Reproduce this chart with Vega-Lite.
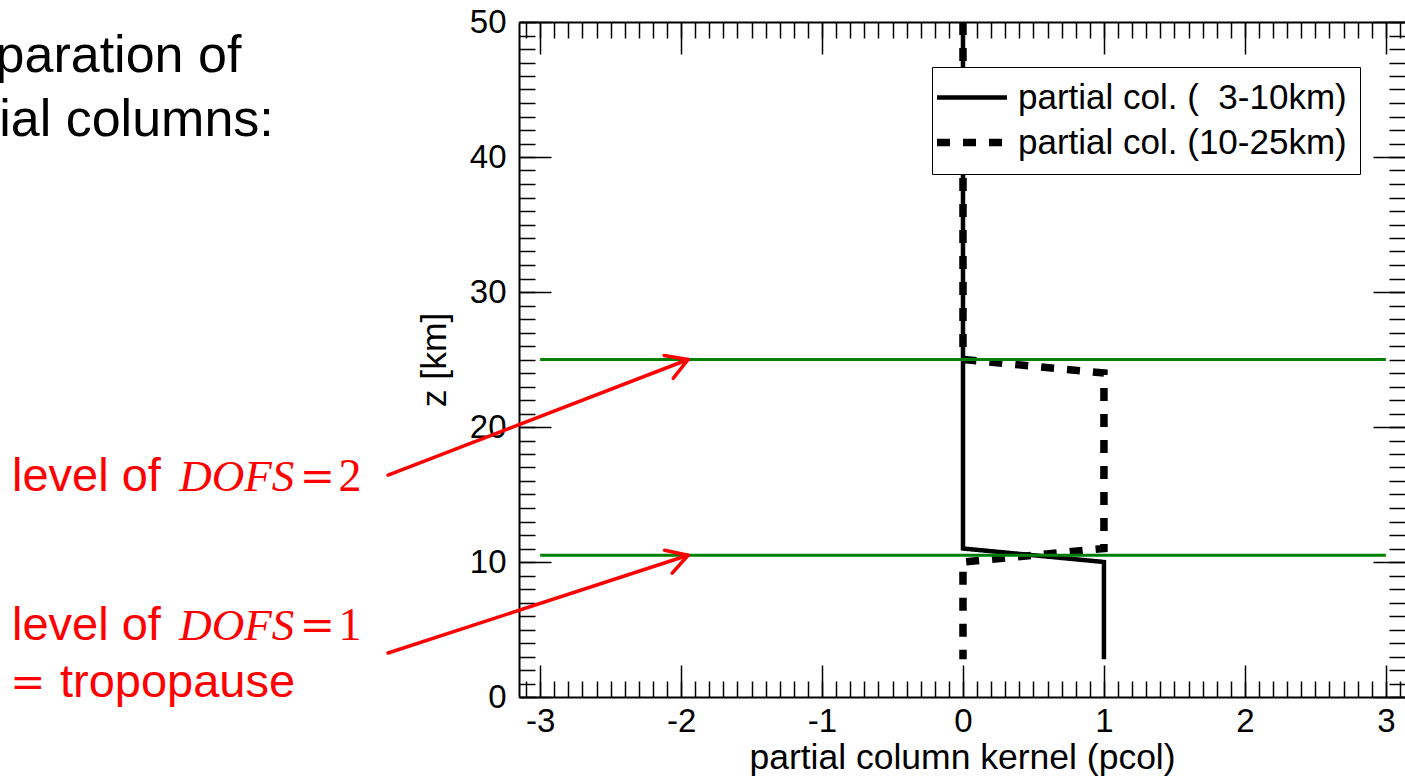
{
  "$schema": "https://vega.github.io/schema/vega-lite/v6.json",
  "width": 886,
  "height": 675,
  "autosize": "none",
  "padding": {"left": 519, "top": 22, "right": 0, "bottom": 79},
  "background": "white",
  "config": {
    "view": {"stroke": null},
    "axis": {
      "labelFont": "Liberation Sans", "titleFont": "Liberation Sans",
      "labelFontSize": 33, "titleFontSize": 35.5, "titleFontWeight": "normal",
      "labelColor": "black", "titleColor": "black",
      "domainColor": "black", "domainWidth": 2,
      "tickColor": "black", "tickWidth": 1.5,
      "grid": false, "labelFlush": false, "labelOverlap": false, "labelBound": false
    }
  },
  "datasets": {
    "kernel": [
      {"series": "partial col. (\u00a0\u00a03-10km)", "o": 1, "pcol": 0, "z": 50},
      {"series": "partial col. (\u00a0\u00a03-10km)", "o": 2, "pcol": 0, "z": 11},
      {"series": "partial col. (\u00a0\u00a03-10km)", "o": 3, "pcol": 1, "z": 10},
      {"series": "partial col. (\u00a0\u00a03-10km)", "o": 4, "pcol": 1, "z": 2.8},
      {"series": "partial col. (10-25km)", "o": 1, "pcol": 0, "z": 50},
      {"series": "partial col. (10-25km)", "o": 2, "pcol": 0, "z": 25},
      {"series": "partial col. (10-25km)", "o": 3, "pcol": 1, "z": 24},
      {"series": "partial col. (10-25km)", "o": 4, "pcol": 1, "z": 11},
      {"series": "partial col. (10-25km)", "o": 5, "pcol": 0, "z": 10},
      {"series": "partial col. (10-25km)", "o": 6, "pcol": 0, "z": 2.8}
    ],
    "levels": [{"z": 25}, {"z": 10.5}],
    "arrows": [
      {"seg": "a1s", "o": 1, "x": -4.079, "z": 16.44},
      {"seg": "a1s", "o": 2, "x": -1.95, "z": 25},
      {"seg": "a1h", "o": 1, "x": -2.12, "z": 25.3},
      {"seg": "a1h", "o": 2, "x": -1.95, "z": 25},
      {"seg": "a1h", "o": 3, "x": -2.056, "z": 23.6},
      {"seg": "a2s", "o": 1, "x": -4.079, "z": 3.26},
      {"seg": "a2s", "o": 2, "x": -1.95, "z": 10.5},
      {"seg": "a2h", "o": 1, "x": -2.117, "z": 10.87},
      {"seg": "a2h", "o": 2, "x": -1.95, "z": 10.5},
      {"seg": "a2h", "o": 3, "x": -2.063, "z": 9.17}
    ],
    "redSans": [
      {"t": "level of", "x": -6.747, "z": 15.26},
      {"t": "level of", "x": -6.747, "z": 4.22},
      {"t": "tropopause", "x": -6.407, "z": 0.0}
    ],
    "redItalic": [
      {"t": "DOFS", "x": -5.56, "z": 15.26},
      {"t": "DOFS", "x": -5.56, "z": 4.22}
    ],
    "redDigits": [
      {"t": "2", "x": -4.43, "z": 15.26},
      {"t": "1", "x": -4.43, "z": 4.22}
    ],
    "redEquals": [
      {"t": "=", "x": -4.705, "z": 15.26},
      {"t": "=", "x": -4.705, "z": 4.22},
      {"t": "=", "x": -6.76, "z": 0.0}
    ],
    "blackText": [
      {"t": "Separation of", "x": -5.12, "z": 46.3},
      {"t": "partial columns:", "x": -4.89, "z": 41.56}
    ]
  },
  "resolve": {"axis": {"x": "independent", "y": "independent"}},
  "layer": [
    {
      "data": {"name": "kernel"},
      "mark": {"type": "line", "color": "black", "strokeCap": "butt", "strokeJoin": "miter"},
      "encoding": {
        "x": {"field": "pcol", "type": "quantitative",
              "scale": {"domain": [-3.15, 3.136], "nice": false, "zero": false},
              "axis": {"orient": "bottom", "values": [-3, -2, -1, 0, 1, 2, 3], "ticks": false, "labelPadding": 8,
                       "labelExpr": "'' + datum.value", "title": "partial column kernel (pcol)", "titlePadding": 2, "domain": true}},
        "y": {"field": "z", "type": "quantitative",
              "scale": {"domain": [0, 50], "nice": false, "zero": false},
              "axis": {"orient": "left", "values": [0, 10, 20, 30, 40, 50], "ticks": false, "labelPadding": 13,
                       "title": "z [km]", "titlePadding": 17, "domain": true}},
        "order": {"field": "o", "type": "quantitative"},
        "strokeDash": {"field": "series", "type": "nominal",
                       "scale": {"domain": ["partial col. (\u00a0\u00a03-10km)", "partial col. (10-25km)"], "range": [[1, 0], [13, 13]]},
                       "legend": {"orient": "none", "legendX": 413, "legendY": 45, "title": null,
                                  "symbolType": "M-3,0H3", "symbolSize": 544, "symbolOffset": 9.5, "labelOffset": 28.5,
                                  "labelFont": "Liberation Sans", "labelFontSize": 35, "labelColor": "black", "labelLimit": 0,
                                  "padding": 13, "rowPadding": 9, "strokeColor": "black", "fillColor": "white",
                                  "symbolStrokeColor": "black", "symbolFillColor": "transparent"}},
        "strokeWidth": {"field": "series", "type": "ordinal",
                        "scale": {"domain": ["partial col. (\u00a0\u00a03-10km)", "partial col. (10-25km)"], "range": [4.5, 7.5]},
                        "legend": {"orient": "none", "legendX": 413, "legendY": 45, "title": null,
                                  "symbolType": "M-3,0H3", "symbolSize": 544, "symbolOffset": 9.5, "labelOffset": 28.5,
                                  "labelFont": "Liberation Sans", "labelFontSize": 35, "labelColor": "black", "labelLimit": 0,
                                  "padding": 13, "rowPadding": 9, "strokeColor": "black", "fillColor": "white",
                                  "symbolStrokeColor": "black", "symbolFillColor": "transparent"}}
      }
    },
    {
      "data": {"name": "levels"},
      "mark": {"type": "rule", "color": "#008000", "strokeWidth": 3},
      "encoding": {
        "x": {"datum": -3, "type": "quantitative",
              "scale": {"domain": [-3.15, 3.136], "nice": false, "zero": false},
              "axis": {"orient": "bottom", "values": [-3, -2, -1, 0, 1, 2, 3], "tickSize": -32, "labels": false, "title": null, "domain": false}},
        "x2": {"datum": 3},
        "y": {"field": "z", "type": "quantitative",
              "scale": {"domain": [0, 50], "nice": false, "zero": false},
              "axis": {"orient": "left", "values": [0, 10, 20, 30, 40, 50], "tickSize": -32, "labels": false, "title": null, "domain": false}}
      }
    },
    {
      "data": {"name": "arrows"},
      "mark": {"type": "line", "color": "#ff0000", "strokeWidth": 3.5, "strokeCap": "round", "strokeJoin": "round"},
      "encoding": {
        "x": {"field": "x", "type": "quantitative",
              "scale": {"domain": [-3.15, 3.136], "nice": false, "zero": false},
              "axis": {"orient": "bottom", "values": [-3.1,-3,-2.9,-2.8,-2.7,-2.6,-2.5,-2.4,-2.3,-2.2,-2.1,-2,-1.9,-1.8,-1.7,-1.6,-1.5,-1.4,-1.3,-1.2,-1.1,-1,-0.9,-0.8,-0.7,-0.6,-0.5,-0.4,-0.3,-0.2,-0.1,0,0.1,0.2,0.3,0.4,0.5,0.6,0.7,0.8,0.9,1,1.1,1.2,1.3,1.4,1.5,1.6,1.7,1.8,1.9,2,2.1,2.2,2.3,2.4,2.5,2.6,2.7,2.8,2.9,3,3.1],
                       "tickSize": -16, "labels": false, "title": null, "domain": false}},
        "y": {"field": "z", "type": "quantitative",
              "scale": {"domain": [0, 50], "nice": false, "zero": false},
              "axis": {"orient": "left", "values": [0,1,2,3,4,5,6,7,8,9,10,11,12,13,14,15,16,17,18,19,20,21,22,23,24,25,26,27,28,29,30,31,32,33,34,35,36,37,38,39,40,41,42,43,44,45,46,47,48,49,50],
                       "tickSize": -16, "labels": false, "title": null, "domain": false}},
        "detail": {"field": "seg", "type": "nominal"},
        "order": {"field": "o", "type": "quantitative"}
      }
    },
    {
      "data": {"name": "redSans"},
      "mark": {"type": "text", "font": "Liberation Sans", "fontSize": 47, "color": "#ff0000", "align": "left", "baseline": "alphabetic"},
      "encoding": {
        "x": {"field": "x", "type": "quantitative",
              "scale": {"domain": [-3.15, 3.136], "nice": false, "zero": false},
              "axis": {"orient": "top", "values": [-3, -2, -1, 0, 1, 2, 3], "tickSize": -32, "labels": false, "title": null, "domain": true}},
        "y": {"field": "z", "type": "quantitative",
              "scale": {"domain": [0, 50], "nice": false, "zero": false},
              "axis": {"orient": "right", "values": [0, 10, 20, 30, 40, 50], "tickSize": -32, "labels": false, "title": null, "domain": false}},
        "text": {"field": "t"}
      }
    },
    {
      "data": {"name": "redItalic"},
      "mark": {"type": "text", "font": "Liberation Serif", "fontStyle": "italic", "fontSize": 45, "color": "#ff0000", "align": "left", "baseline": "alphabetic"},
      "encoding": {
        "x": {"field": "x", "type": "quantitative",
              "scale": {"domain": [-3.15, 3.136], "nice": false, "zero": false},
              "axis": {"orient": "top", "values": [-3.1,-3,-2.9,-2.8,-2.7,-2.6,-2.5,-2.4,-2.3,-2.2,-2.1,-2,-1.9,-1.8,-1.7,-1.6,-1.5,-1.4,-1.3,-1.2,-1.1,-1,-0.9,-0.8,-0.7,-0.6,-0.5,-0.4,-0.3,-0.2,-0.1,0,0.1,0.2,0.3,0.4,0.5,0.6,0.7,0.8,0.9,1,1.1,1.2,1.3,1.4,1.5,1.6,1.7,1.8,1.9,2,2.1,2.2,2.3,2.4,2.5,2.6,2.7,2.8,2.9,3,3.1],
                       "tickSize": -16, "labels": false, "title": null, "domain": false}},
        "y": {"field": "z", "type": "quantitative",
              "scale": {"domain": [0, 50], "nice": false, "zero": false},
              "axis": {"orient": "right", "values": [0,1,2,3,4,5,6,7,8,9,10,11,12,13,14,15,16,17,18,19,20,21,22,23,24,25,26,27,28,29,30,31,32,33,34,35,36,37,38,39,40,41,42,43,44,45,46,47,48,49,50],
                       "tickSize": -16, "labels": false, "title": null, "domain": false}},
        "text": {"field": "t"}
      }
    },
    {
      "data": {"name": "redDigits"},
      "mark": {"type": "text", "font": "Liberation Serif", "fontSize": 46, "color": "#ff0000", "align": "left", "baseline": "alphabetic"},
      "encoding": {
        "x": {"field": "x", "type": "quantitative", "scale": {"domain": [-3.15, 3.136], "nice": false, "zero": false}, "axis": null},
        "y": {"field": "z", "type": "quantitative", "scale": {"domain": [0, 50], "nice": false, "zero": false}, "axis": null},
        "text": {"field": "t"}
      }
    },
    {
      "data": {"name": "redEquals"},
      "mark": {"type": "text", "font": "DejaVu Serif", "fontSize": 42, "color": "#ff0000", "align": "left", "baseline": "alphabetic"},
      "encoding": {
        "x": {"field": "x", "type": "quantitative", "scale": {"domain": [-3.15, 3.136], "nice": false, "zero": false}, "axis": null},
        "y": {"field": "z", "type": "quantitative", "scale": {"domain": [0, 50], "nice": false, "zero": false}, "axis": null},
        "text": {"field": "t"}
      }
    },
    {
      "data": {"name": "blackText"},
      "mark": {"type": "text", "font": "Liberation Sans", "fontSize": 52, "color": "black", "align": "right", "baseline": "alphabetic"},
      "encoding": {
        "x": {"field": "x", "type": "quantitative", "scale": {"domain": [-3.15, 3.136], "nice": false, "zero": false}, "axis": null},
        "y": {"field": "z", "type": "quantitative", "scale": {"domain": [0, 50], "nice": false, "zero": false}, "axis": null},
        "text": {"field": "t"}
      }
    }
  ]
}
